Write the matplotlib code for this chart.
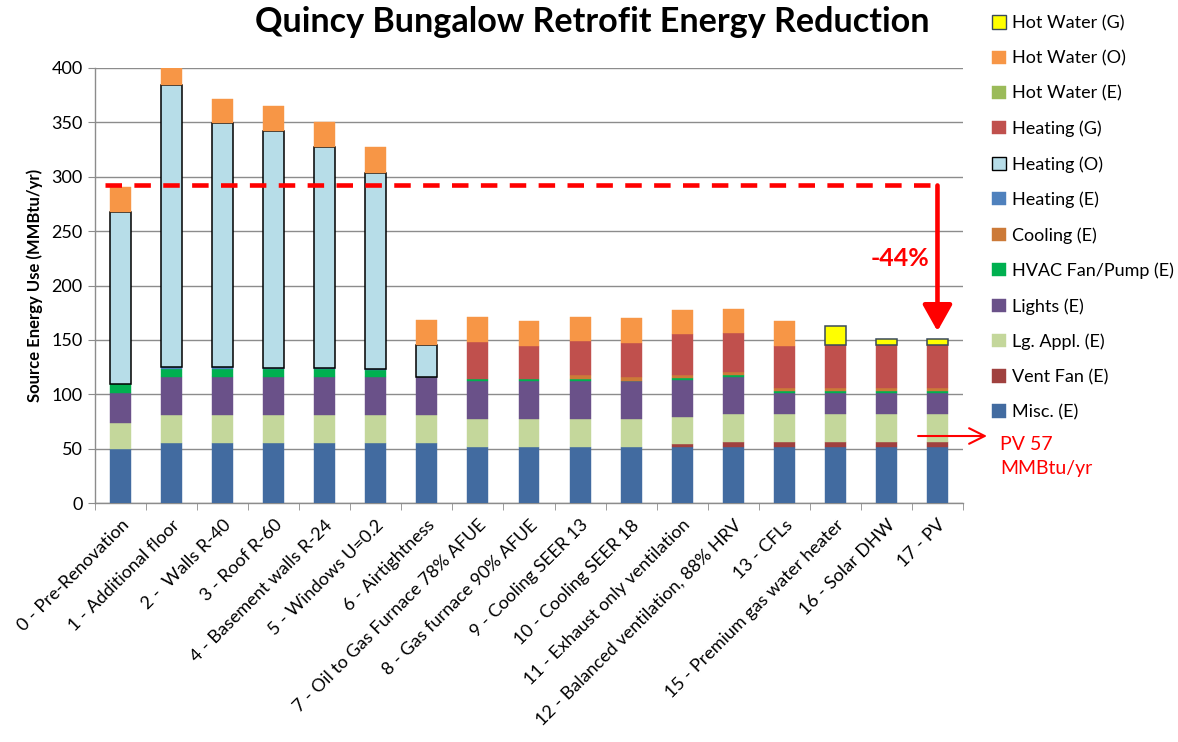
import matplotlib
matplotlib.use("Agg")
import matplotlib.pyplot as plt
from matplotlib.patches import Patch
import numpy as np

plt.rcParams['font.family'] = ['Lato', 'DejaVu Sans']

categories = ["0 - Pre-Renovation", "1 - Additional floor", "2 -  Walls R-40", "3 - Roof R-60",
              "4 - Basement walls R-24", "5 - Windows U=0.2", "6 - Airtightness",
              "7 - Oil to Gas Furnace 78% AFUE", "8 - Gas furnace 90% AFUE", "9 - Cooling SEER 13",
              "10 - Cooling SEER 18", "11 - Exhaust only ventilation",
              "12 - Balanced ventilation, 88% HRV", "13 - CFLs", "15 - Premium gas water heater",
              "16 - Solar DHW", "17 - PV"]

misc_e      = [50, 55.5, 55.5, 55.5, 55.5, 55.5, 55.5, 51.8, 51.8, 51.8, 51.8, 51.8, 51.8, 51.8, 51.8, 51.8, 51.8]
vent_fan_e  = [0, 0, 0, 0, 0, 0, 0, 0, 0, 0, 0, 2.5, 4.6, 4.6, 4.6, 4.6, 4.6]
lg_appl_e   = [24, 25, 25, 25, 25, 25, 25, 25, 25, 25, 25, 24.5, 25, 25, 25, 25, 25]
lights_e    = [27, 35, 35, 35, 35, 35, 35, 35, 35, 35, 35, 34.6, 34.4, 19.6, 19.6, 19.6, 19.6]
hvac_fan_e  = [8, 8, 7.4, 7.5, 7.5, 7, 0.5, 2.1, 2.1, 2.1, 0.5, 1.2, 2.1, 2, 2, 2, 2]
cooling_e   = [0, 0, 0, 0, 0, 0, 0, 0, 0, 3.6, 3.7, 3.1, 2.8, 2.7, 2.7, 2.7, 2.7]
heating_e   = [0, 2, 2, 1, 1, 0.5, 0, 0, 0, 0, 0, 0, 0, 0, 0, 0, 0]
heating_o   = [158.5, 259, 224.6, 218.5, 203.5, 180.7, 29.6, 0, 0, 0, 0, 0, 0, 0, 0, 0, 0]
heating_g   = [0, 0, 0, 0, 0, 0, 0, 34.3, 30.7, 31.6, 31.2, 38, 35.8, 39, 39.3, 39.3, 39.3]
hot_water_e = [0] * 17
hot_water_o = [22.7, 16, 22.2, 23, 23.3, 23.2, 22.7, 22.4, 22.3, 21.7, 22.7, 21.8, 21.8, 22.4, 0, 0, 0]
hot_water_g = [0, 0, 0, 0, 0, 0, 0, 0, 0, 0, 0, 0, 0, 0, 18, 6, 6]

yticks = [0, 50, 100, 150, 200, 250, 300, 350, 400]
baseline_value = 292
final_value = 158
reduction_label = "-44%"
pv_level = 61.6
pv_label = "PV 57\nMMBtu/yr"

series = [
    ("Misc. (E)", misc_e, '#426BA0', None),
    ("Vent Fan (E)", vent_fan_e, '#A0413F', None),
    ("Lg. Appl. (E)", lg_appl_e, '#C4D79B', None),
    ("Lights (E)", lights_e, '#6A5189', None),
    ("HVAC Fan/Pump (E)", hvac_fan_e, '#00B050', None),
    ("Cooling (E)", cooling_e, '#CC7A38', None),
    ("Heating (E)", heating_e, '#4F81BD', None),
    ("Heating (O)", heating_o, '#B7DDE8', 'black'),
    ("Heating (G)", heating_g, '#C0504D', None),
    ("Hot Water (E)", hot_water_e, '#9BBB59', None),
    ("Hot Water (O)", hot_water_o, '#F79646', None),
    ("Hot Water (G)", hot_water_g, '#FFFF00', '#3A4A5A'),
]

fig = plt.figure(figsize=(11.78, 7.42), dpi=100)
ax = fig.add_axes([95/1178, 1-503/742, 868/1178, 435/742])

x = np.arange(len(categories))
bottom = np.zeros(len(categories))
width = 0.41
for name, vals, color, ec in series:
    v = np.array(vals, dtype=float)
    mask = v > 0
    if mask.any():
        if ec is not None:
            ax.bar(x[mask], v[mask], width, bottom=bottom[mask], color=color, edgecolor=ec,
                   linewidth=1.1, zorder=3)
        else:
            ax.bar(x[mask], v[mask], width, bottom=bottom[mask], color=color, edgecolor=color,
                   linewidth=0.3, zorder=3)
    bottom += v

ax.set_xlim(-0.5, len(categories) - 0.5)
ax.set_ylim(0, 400)
ax.set_yticks(yticks)
ax.yaxis.grid(True, color='#8C8C8C', linewidth=1.0, zorder=0)
ax.set_axisbelow(True)
for s in ['top', 'right']:
    ax.spines[s].set_visible(False)
for s in ['left', 'bottom']:
    ax.spines[s].set_color('#8C8C8C')
    ax.spines[s].set_linewidth(1.0)
ax.tick_params(axis='y', direction='out', length=5, color='#8C8C8C', labelsize=13, pad=4)

ax.set_xticks(x)
ax.set_xticklabels(categories, rotation=45, ha='right', rotation_mode='anchor', fontsize=13)
ax.tick_params(axis='x', length=0, pad=10)
ax.set_xticks(np.arange(-0.5, len(categories), 1.0), minor=True)
ax.tick_params(axis='x', which='minor', direction='out', length=5, color='#8C8C8C')

ax.set_ylabel("Source Energy Use (MMBtu/yr)", fontsize=12, fontweight='bold', labelpad=6)

# baseline dashed line
ax.plot([-0.3, len(categories) - 1], [baseline_value, baseline_value], color='red',
        linewidth=3.3, linestyle=(0, (3.6, 2.7)), zorder=5, solid_capstyle='butt')
ax.annotate('', xy=(len(categories) - 1, final_value), xytext=(len(categories) - 1, baseline_value),
            arrowprops=dict(arrowstyle='-|>,head_length=0.8,head_width=0.45', color='red', lw=3.3,
                            shrinkA=0, shrinkB=0, mutation_scale=20), zorder=6)
ax.text(15.27, 225, reduction_label, color='red', fontsize=18, fontweight='bold',
        ha='center', va='center', zorder=6)

# PV arrow
ax.annotate('', xy=(16.97, pv_level), xytext=(15.62, pv_level),
            arrowprops=dict(arrowstyle='->,head_length=0.8,head_width=0.4', color='red', lw=1.5,
                            shrinkA=0, shrinkB=0, mutation_scale=14),
            annotation_clip=False, zorder=6)
fig.text(1000/1178, 1-456/742, pv_label, color='red', fontsize=14, ha='left', va='center',
         linespacing=1.5)

fig.text(592/1178, 1-22/742, "Quincy Bungalow Retrofit Energy Reduction", fontsize=24.6,
         fontweight='bold', ha='center', va='center')

handles = [Patch(facecolor=c, edgecolor=(ec if ec else c), linewidth=(1.0 if ec else 0.3), label=n)
           for n, v, c, ec in series][::-1]
fig.legend(handles=handles, loc='upper left', bbox_to_anchor=(985/1178, 1-8/742), frameon=False,
           fontsize=13, handlelength=0.75, handleheight=0.75, handletextpad=0.35,
           labelspacing=1.05, borderaxespad=0)

fig.savefig('out.png', dpi=100)
